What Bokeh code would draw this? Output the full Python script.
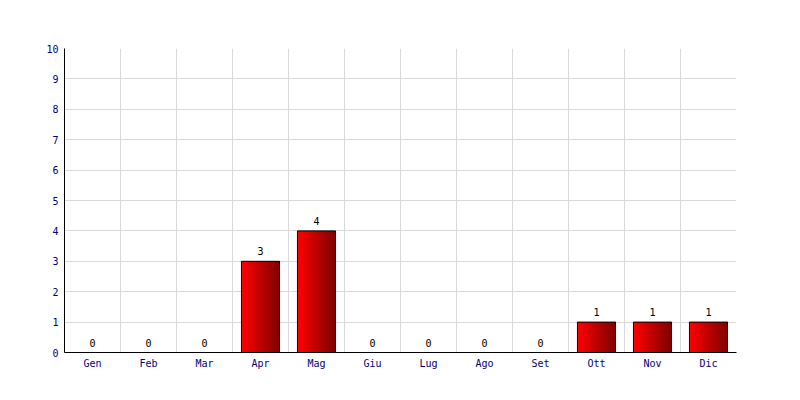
from bokeh.plotting import figure
from bokeh.models import ColumnDataSource, FixedTicker
from bokeh.transform import dodge
from bokeh.core.properties import value
from bokeh.embed import file_html
from bokeh.resources import INLINE

months = ["Gen", "Feb", "Mar", "Apr", "Mag", "Giu", "Lug", "Ago", "Set", "Ott", "Nov", "Dic"]
counts = [0, 0, 0, 3, 4, 0, 0, 0, 0, 1, 1, 1]
y_ticks = list(range(0, 11))

FONT = "DejaVu Sans Mono"
BAR_W = 0.68
N_STRIPS = 38

xs = [i + 0.5 for i in range(len(months))]
src = ColumnDataSource(dict(x=xs, count=counts, label=[str(c) for c in counts]))
nz = [i for i, c in enumerate(counts) if c > 0]
src_nz = ColumnDataSource(dict(x=[xs[i] for i in nz], count=[counts[i] for i in nz]))

p = figure(width=792, height=392, x_range=(0, len(months)), y_range=(0, 10),
           output_backend="svg", toolbar_location=None,
           min_border_left=64, min_border_right=56, min_border_top=48, min_border_bottom=40,
           background_fill_color="white", border_fill_color="white")
p.outline_line_color = None

# gradient bars as layered strips (each covers from its start to the bar's right edge)
sw = BAR_W / N_STRIPS
c0 = (252, 0, 0)
c1 = (128, 0, 0)
for k in range(N_STRIPS):
    t = k / (N_STRIPS - 1)
    col = "#%02x%02x%02x" % tuple(int(round(a + (b - a) * t)) for a, b in zip(c0, c1))
    left = -BAR_W / 2 + sw * k
    w = BAR_W / 2 - left
    p.vbar(x=dodge("x", left + w / 2, range=p.x_range), top="count", width=w, bottom=0,
           source=src_nz, fill_color=col, fill_alpha=1.0, line_color=None)
p.vbar(x="x", top="count", width=BAR_W, bottom=0, source=src_nz,
       fill_color=None, line_color="black", line_width=1)

p.text(x="x", y="count", text="label", source=src, text_align="center",
       text_baseline="alphabetic", y_offset=-10, text_font=value(FONT),
       text_font_size="10px", text_color="black")

# axes
p.xaxis.ticker = FixedTicker(ticks=xs)
p.xaxis.major_label_overrides = {x: m for x, m in zip(xs, months)}
p.yaxis.ticker = FixedTicker(ticks=y_ticks)
for ax in (p.xaxis, p.yaxis):
    ax.major_tick_out = 0
    ax.major_tick_in = 0
    ax.minor_tick_out = 0
    ax.minor_tick_in = 0
    ax.axis_line_color = "black"
    ax.axis_line_width = 1
    ax.major_label_text_font = FONT
    ax.major_label_text_font_size = "10px"
    ax.major_label_text_color = "#000080"
p.xaxis.major_label_standoff = 5
p.yaxis.major_label_standoff = 6

p.xgrid.ticker = FixedTicker(ticks=list(range(len(months) + 1)))
p.xgrid.grid_line_color = "#d9d9d9"
p.ygrid.grid_line_color = "#d9d9d9"

open("out.html", "w").write(file_html(p, INLINE))
